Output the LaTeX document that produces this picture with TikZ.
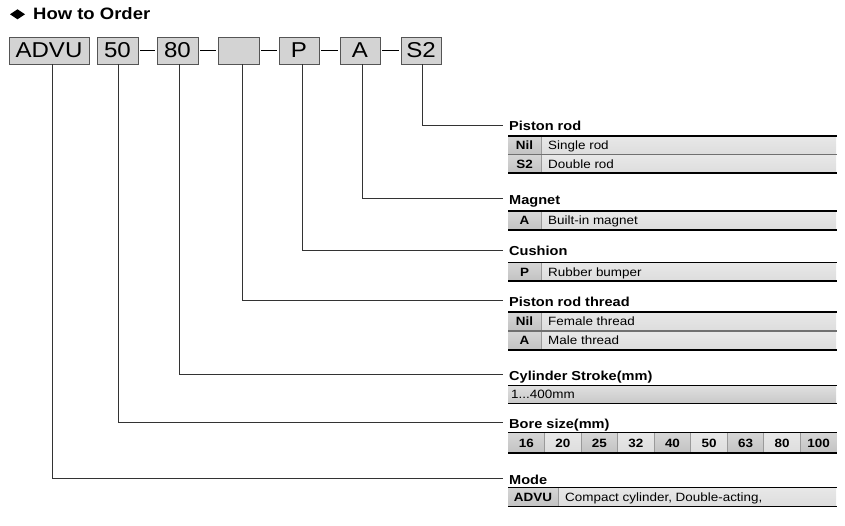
\documentclass[tikz,border=0pt]{standalone}
\usepackage{fontspec}
\setmainfont{Liberation Sans}[FakeStretch=1.12]
\definecolor{boxfill}{HTML}{D3D3D3}
\definecolor{boxborder}{HTML}{555555}
\definecolor{connc}{HTML}{333333}
\definecolor{codetop}{HTML}{D6D6D6}
\definecolor{codebot}{HTML}{C2C2C2}
\definecolor{txttop}{HTML}{E8E8E8}
\definecolor{txtbot}{HTML}{DDDDDD}
\definecolor{sepc}{HTML}{707070}
\definecolor{vsepc}{HTML}{9A9A9A}
\definecolor{stroketop}{HTML}{E0E0E0}
\definecolor{strokebot}{HTML}{C8C8C8}
\newcommand{\ordrow}[6]{%
  \shade[top color=codetop,bottom color=codebot] (508,#1) rectangle (#3,#2);
  \shade[top color=txttop,bottom color=txtbot] (#3,#1) rectangle (836,#2);
  \draw[vsep] (#3,#1) -- (#3,#2);
  \node[code] (#6c) at ({(508+#3)/2},{(#1+#2)/2+4.4}) {#4};
  \node[cell, anchor=base west] (#6t) at ({#3+7},{(#1+#2)/2+4.4}) {#5};
}
\begin{document}
\begin{tikzpicture}[x=1pt,y=-1pt,
  box/.style={draw=boxborder, fill=boxfill, line width=0.9pt, minimum height=27pt, inner sep=0pt, font=\fontsize{21.5}{22}\selectfont},
  hdr/.style={anchor=base west, inner sep=0pt, font=\bfseries\fontsize{13}{14}\selectfont},
  cell/.style={anchor=base, inner sep=0pt, font=\fontsize{12}{13}\selectfont},
  code/.style={anchor=base, inner sep=0pt, font=\bfseries\fontsize{12}{13}\selectfont},
  conn/.style={draw=connc, line width=0.9pt},
  dashc/.style={draw=black, line width=0.9pt},
  rulel/.style={line width=1.2pt, draw=black},
  rsep/.style={line width=1.2pt, draw=sepc},
  vsep/.style={line width=0.8pt, draw=vsepc}]
\useasboundingbox (0,0) rectangle (845,526);

% title
\fill (10,14.3) -- (17.5,9.3) -- (25,14.3) -- (17.5,19.3) -- cycle;
\node[anchor=base west, inner sep=0pt, font=\bfseries\fontsize{16.5}{18}\selectfont] (title) at (33,20) {How to Order};

% code boxes
\node[box, minimum width=80pt] (advu) at (49,50.5) {ADVU};
\node[box, minimum width=41pt] (b50) at (117.5,50.5) {50};
\node[box, minimum width=41pt] (b80) at (177.5,50.5) {80};
\node[box, minimum width=41pt] (bbl) at (238.5,50.5) {};
\node[box, minimum width=40pt] (bp) at (299,50.5) {P};
\node[box, minimum width=40pt] (ba) at (360,50.5) {A};
\node[box, minimum width=40pt] (bs2) at (421,50.5) {S2};

\draw[dashc] ([xshift=2pt]b50.east) -- ([xshift=-2pt]b80.west);
\draw[dashc] ([xshift=2pt]b80.east) -- ([xshift=-2pt]bbl.west);
\draw[dashc] ([xshift=2pt]bbl.east) -- ([xshift=-2pt]bp.west);
\draw[dashc] ([xshift=2pt]bp.east) -- ([xshift=-2pt]ba.west);
\draw[dashc] ([xshift=2pt]ba.east) -- ([xshift=-2pt]bs2.west);

% headers
\node[hdr] (h1) at (509,131) {Piston rod};
\node[hdr] (h2) at (509,205) {Magnet};
\node[hdr] (h3) at (509,256) {Cushion};
\node[hdr] (h4) at (509,306) {Piston rod thread};
\node[hdr] (h5) at (509,380) {Cylinder Stroke(mm)};
\node[hdr] (h6) at (509,428) {Bore size(mm)};
\node[hdr] (h7) at (509,484) {Mode};

\coordinate (e1) at (503,125);
\coordinate (e2) at (503,198);
\coordinate (e3) at (503,250.5);
\coordinate (e4) at (503,300.5);
\coordinate (e5) at (503,374.5);
\coordinate (e6) at (503,422.5);
\coordinate (e7) at (503,478.5);

\draw[conn] ([xshift=1pt]bs2.south) |- (e1);
\draw[conn] ([xshift=2pt]ba.south) |- (e2);
\draw[conn] ([xshift=3pt]bp.south) |- (e3);
\draw[conn] ([xshift=3.5pt]bbl.south) |- (e4);
\draw[conn] ([xshift=1.5pt]b80.south) |- (e5);
\draw[conn] ([xshift=0.5pt]b50.south) |- (e6);
\draw[conn] ([xshift=3pt]advu.south) |- (e7);

% Piston rod table
\ordrow{136}{154.5}{541}{Nil}{Single rod}{pra}
\ordrow{154.5}{173}{541}{S2}{Double rod}{prb}
\draw[rsep] (508,154.5) -- (837,154.5);
\draw[rulel] (508,136) -- (837,136);
\draw[rulel] (508,173) -- (837,173);

% Magnet
\ordrow{211}{230}{541}{A}{Built-in magnet}{mga}
\draw[rulel] (508,211) -- (837,211);
\draw[rulel] (508,230) -- (837,230);

% Cushion
\ordrow{262.5}{281}{541}{P}{Rubber bumper}{cua}
\draw[rulel] (508,262.5) -- (837,262.5);
\draw[rulel] (508,281) -- (837,281);

% Piston rod thread
\ordrow{312}{331}{541}{Nil}{Female thread}{tha}
\ordrow{331}{350}{541}{A}{Male thread}{thb}
\draw[rsep] (508,331) -- (837,331);
\draw[rulel] (508,312) -- (837,312);
\draw[rulel] (508,350) -- (837,350);

% Cylinder stroke
\shade[top color=stroketop,bottom color=strokebot] (508,385.5) rectangle (836,403.5);
\node[cell, anchor=base west] (stk) at (511,398.9) {1...400mm};
\draw[rulel] (508,385.5) -- (837,385.5);
\draw[rulel] (508,403.5) -- (837,403.5);

% Bore size
\foreach \v [count=\i from 0] in {16,20,25,32,40,50,63,80,100} {
  \pgfmathsetmacro{\xa}{508+36.55*\i}
  \pgfmathsetmacro{\xb}{508+36.55*(\i+1)}
  \ifodd\i
    \shade[top color=txttop,bottom color=txtbot] (\xa,432.5) rectangle (\xb,453);
  \else
    \shade[top color=codetop,bottom color=codebot] (\xa,432.5) rectangle (\xb,453);
  \fi
  \ifnum\i>0 \draw[vsep] (\xa,432.5) -- (\xa,453); \fi
  \node[code] (bore\v) at ({(\xa+\xb)/2},447.2) {\v};
}
\draw[rulel] (508,432.5) -- (837,432.5);
\draw[rulel] (508,453) -- (837,453);

% Mode
\ordrow{487.5}{506.5}{558}{ADVU}{Compact cylinder, Double-acting,}{moa}
\draw[rulel] (508,487.5) -- (837,487.5);
\draw[rulel] (508,506.5) -- (837,506.5);
\end{tikzpicture}
\end{document}
